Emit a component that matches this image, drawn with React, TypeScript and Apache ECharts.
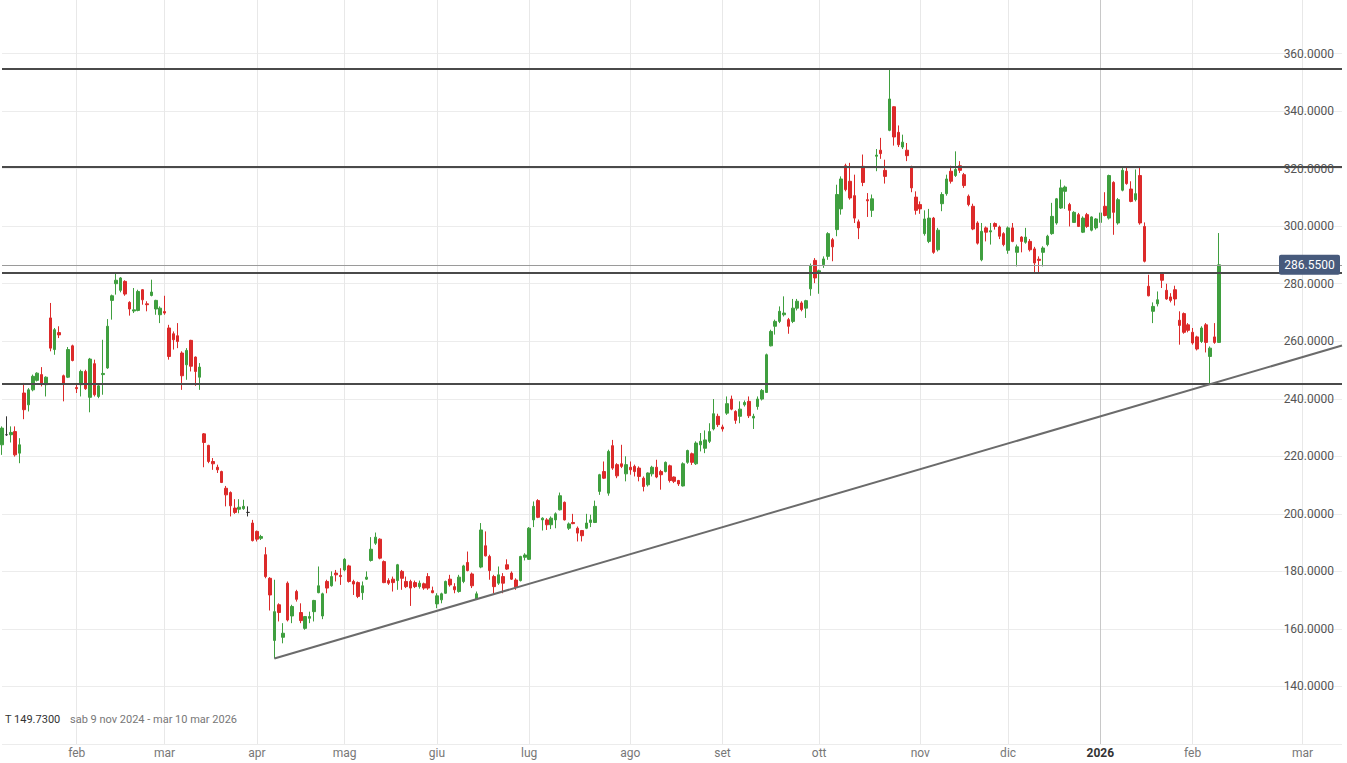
import React, { useEffect, useRef } from 'react';
import * as echarts from 'echarts';

// ---- axis / calendar definitions ----
const FIRST_DAY = '2025-01-09';
const LAST_TRADING_DAY = '2026-02-10';
const LAST_AXIS_DAY = '2026-03-10';
const HOLIDAYS = ['2025-04-18', '2025-04-21', '2025-05-01', '2025-12-25', '2025-12-26', '2026-01-01'];
const MONTHS_IT = ['gen', 'feb', 'mar', 'apr', 'mag', 'giu', 'lug', 'ago', 'set', 'ott', 'nov', 'dic'];
const Y_MIN = 120;
const Y_MAX = 380;
const Y_STEP = 20;

// ---- levels / annotations ----
const LEVELS = [354.7, 320.8, 283.7, 245.2];
const LAST_PRICE = 286.55;
const TREND_START = ['2025-04-07', 149.73];
const TREND_END = ['2026-03-10', 258.5];
const YEAR_LINE = '2026-01-02';
const INFO_LEFT = 'T 149.7300';
const INFO_RIGHT = 'sab 9 nov 2024 - mar 10 mar 2026';

// ---- daily candles: [open, close, low, high] ----
const CANDLES = [
  [224.0, 229.8, 220.5, 230.4], [227.5, 227.5, 227.1, 233.9], [227.5, 228.3, 224.8, 230.4], [228.6, 220.5, 219.9, 230.4],
  [221.1, 224.0, 217.6, 226.3], [242.0, 236.2, 232.9, 245.5], [237.9, 243.1, 235.6, 243.7], [243.1, 247.8, 242.6, 248.4],
  [246.4, 248.9, 246.0, 249.2], [248.4, 245.2, 244.3, 251.0], [244.9, 247.5, 240.8, 247.8], [268.1, 257.6, 256.5, 273.3],
  [257.1, 264.0, 255.3, 264.6], [263.0, 262.2, 261.1, 265.2], [248.0, 245.2, 239.1, 248.4], [247.5, 257.1, 247.2, 258.0],
  [258.4, 253.3, 253.0, 258.8], [243.9, 243.5, 242.0, 245.5], [244.9, 249.5, 240.8, 250.1], [249.5, 243.5, 243.1, 250.1],
  [240.5, 253.8, 235.3, 254.2], [252.2, 241.4, 240.8, 253.6], [240.8, 244.5, 240.2, 244.9], [248.4, 248.8, 241.4, 260.5],
  [250.7, 265.2, 250.4, 267.7], [274.2, 275.8, 267.5, 276.2], [280.0, 281.2, 276.2, 283.7], [277.7, 282.0, 277.0, 282.3],
  [280.8, 276.4, 275.8, 281.2], [273.5, 271.2, 268.9, 273.9], [270.5, 270.9, 269.8, 278.5], [270.7, 277.3, 270.4, 277.9],
  [277.9, 274.4, 272.7, 278.1], [273.0, 272.7, 270.4, 273.9], [275.9, 277.1, 275.6, 281.4], [271.2, 274.2, 269.2, 274.4],
  [269.2, 271.5, 266.3, 272.1], [270.3, 269.8, 269.2, 275.8], [264.6, 254.7, 253.6, 265.7], [262.6, 260.5, 257.1, 263.4],
  [261.9, 259.9, 257.6, 266.3], [255.9, 248.0, 243.1, 256.5], [251.8, 256.8, 246.6, 257.6], [260.3, 251.3, 249.5, 260.5],
  [254.5, 249.5, 244.5, 254.7], [247.5, 251.0, 243.1, 252.4], [227.8, 224.8, 216.2, 228.1], [223.8, 218.2, 217.6, 224.0],
  [218.2, 217.4, 215.3, 219.4], [216.2, 215.3, 214.2, 217.1], [214.7, 210.9, 210.7, 215.0], [208.9, 206.6, 202.6, 209.7],
  [207.4, 202.8, 199.1, 207.8], [202.0, 200.5, 200.0, 205.1], [201.6, 202.3, 200.2, 205.1], [201.8, 202.6, 201.4, 204.9],
  [200.5, 200.5, 199.1, 202.6], [196.8, 190.7, 190.4, 197.9], [193.9, 191.2, 190.4, 194.2], [191.5, 192.1, 190.9, 192.7],
  [185.8, 178.2, 177.6, 188.4], [177.6, 171.8, 166.4, 178.0], [156.0, 166.0, 149.73, 177.1], [168.4, 165.7, 162.6, 168.9],
  [157.1, 158.5, 155.0, 162.0], [175.9, 163.1, 162.6, 176.5], [164.5, 167.8, 162.0, 168.4], [173.0, 170.3, 169.5, 173.6],
  [165.7, 162.9, 162.0, 168.9], [160.2, 164.3, 159.7, 164.5], [163.7, 164.3, 162.0, 166.0], [166.0, 169.9, 162.6, 170.1],
  [172.6, 175.0, 172.4, 181.7], [164.5, 172.2, 163.4, 172.6], [176.5, 174.2, 172.4, 177.1], [175.0, 178.2, 174.7, 180.0],
  [179.4, 178.8, 176.5, 180.5], [178.6, 178.2, 175.3, 181.1], [180.5, 184.2, 180.0, 184.6], [181.9, 176.5, 176.1, 182.3],
  [176.5, 175.6, 171.8, 177.1], [176.1, 171.3, 170.7, 176.5], [172.6, 175.0, 170.1, 176.5], [177.3, 178.0, 177.0, 180.0],
  [183.8, 187.7, 183.4, 191.9], [189.8, 191.9, 189.2, 193.5], [191.2, 184.6, 184.2, 191.5], [183.4, 176.1, 175.9, 183.8],
  [176.8, 175.9, 175.3, 177.6], [177.3, 176.1, 173.0, 178.2], [176.8, 182.3, 173.6, 182.6], [180.0, 177.6, 173.6, 180.5],
  [176.5, 174.7, 174.2, 178.2], [176.5, 174.2, 168.0, 177.1], [176.1, 174.7, 174.2, 176.8], [174.7, 175.9, 174.0, 176.8],
  [175.7, 174.2, 173.6, 176.1], [178.2, 174.2, 173.6, 179.4], [173.3, 172.6, 172.4, 174.7], [168.7, 171.5, 167.2, 172.4],
  [170.1, 172.2, 168.9, 172.6], [172.4, 176.5, 172.2, 176.8], [177.3, 175.3, 174.7, 178.8], [174.7, 173.6, 172.4, 175.9],
  [173.0, 178.0, 172.6, 178.8], [176.5, 181.9, 175.9, 182.3], [183.1, 180.3, 180.0, 186.9], [179.1, 175.0, 174.2, 179.6],
  [170.3, 172.2, 170.1, 173.0], [181.5, 194.4, 181.1, 196.8], [188.9, 185.4, 185.2, 193.9], [185.2, 180.3, 177.1, 185.8],
  [178.2, 174.7, 172.4, 178.8], [175.9, 178.8, 175.3, 181.7], [178.2, 175.9, 172.4, 179.4], [182.3, 180.8, 180.5, 184.2],
  [179.4, 177.3, 177.0, 180.0], [177.0, 174.5, 173.6, 177.6], [176.8, 185.2, 176.5, 185.4], [184.9, 185.7, 183.8, 186.3],
  [184.2, 195.0, 184.0, 195.4], [197.9, 202.6, 195.4, 204.3], [204.6, 198.8, 198.5, 205.1], [197.9, 198.5, 194.2, 198.8],
  [197.9, 196.2, 194.4, 198.5], [196.2, 198.5, 194.7, 199.1], [197.9, 200.0, 195.0, 200.5], [201.4, 206.3, 201.2, 207.4],
  [204.0, 197.9, 197.7, 204.3], [195.0, 196.5, 194.4, 197.0], [197.0, 196.6, 196.4, 200.0], [195.0, 193.3, 190.4, 195.6],
  [194.2, 192.4, 190.4, 194.4], [195.0, 196.8, 194.7, 200.0], [197.0, 197.9, 195.4, 199.7], [197.0, 202.6, 196.8, 204.6],
  [207.8, 213.6, 206.6, 213.9], [214.7, 212.4, 212.1, 218.2], [207.2, 221.7, 206.3, 222.3], [223.7, 215.9, 215.3, 225.7],
  [217.1, 213.2, 212.4, 217.6], [217.4, 216.5, 215.9, 224.0], [213.9, 217.1, 211.3, 220.0], [216.2, 215.3, 213.6, 218.2],
  [216.5, 214.7, 213.0, 217.1], [215.9, 213.0, 211.3, 216.5], [212.4, 209.5, 207.8, 213.0], [210.1, 214.2, 209.5, 214.4],
  [213.9, 216.2, 213.0, 216.7], [216.2, 212.8, 212.4, 218.8], [214.7, 213.6, 208.4, 215.3], [214.7, 217.9, 214.4, 218.2],
  [216.7, 211.6, 210.9, 217.1], [212.8, 211.3, 210.7, 213.0], [211.6, 210.4, 209.7, 211.8], [209.7, 217.4, 209.5, 217.9],
  [217.9, 222.0, 217.4, 222.3], [220.9, 217.9, 217.0, 221.3], [217.4, 224.6, 217.0, 225.2], [224.0, 225.2, 221.7, 228.1],
  [222.8, 225.7, 221.1, 229.0], [225.2, 228.6, 224.6, 231.5], [229.5, 234.8, 229.0, 239.9], [233.9, 231.0, 230.2, 234.8],
  [230.2, 229.5, 228.6, 231.0], [235.0, 238.3, 234.4, 240.8], [239.9, 236.4, 236.0, 241.1], [235.6, 232.5, 231.3, 236.0],
  [233.9, 236.4, 231.5, 239.1], [237.9, 238.7, 237.3, 239.4], [239.1, 234.1, 233.3, 240.8], [233.3, 233.9, 229.5, 234.8],
  [237.3, 239.9, 236.2, 240.8], [239.9, 242.9, 239.4, 243.4], [242.2, 255.3, 242.0, 255.7], [258.4, 263.4, 258.2, 264.0],
  [265.2, 266.9, 262.3, 267.5], [266.9, 270.4, 266.3, 272.1], [269.2, 269.8, 268.6, 275.6], [267.5, 265.2, 262.6, 268.1],
  [266.9, 271.5, 266.3, 274.7], [271.5, 273.9, 270.7, 274.7], [273.3, 271.0, 270.4, 273.9], [271.5, 274.1, 268.1, 274.4],
  [278.2, 286.3, 275.8, 287.0], [288.1, 282.0, 280.2, 288.9], [284.0, 284.5, 276.5, 284.9], [286.6, 288.6, 285.5, 289.5],
  [289.5, 297.4, 288.3, 297.9], [295.3, 292.8, 287.8, 295.9], [298.8, 311.0, 296.5, 314.4], [306.0, 316.4, 304.0, 317.3],
  [321.0, 312.7, 312.1, 321.7], [315.6, 309.8, 309.2, 322.0], [310.6, 302.8, 301.1, 317.9], [301.5, 299.4, 295.5, 302.3],
  [320.8, 315.2, 313.9, 324.9], [309.2, 308.8, 303.2, 311.5], [305.5, 309.5, 303.2, 311.0], [324.3, 324.7, 319.1, 326.8],
  [326.4, 325.2, 323.4, 330.7], [319.4, 317.3, 314.8, 323.1], [333.3, 344.2, 333.0, 354.7], [341.5, 331.0, 328.0, 341.7],
  [332.6, 328.3, 327.5, 335.0], [327.5, 329.2, 326.8, 331.8], [326.4, 324.5, 322.6, 328.9], [320.6, 313.3, 311.8, 321.0],
  [310.1, 305.5, 304.0, 312.1], [307.5, 306.0, 304.3, 308.6], [297.4, 302.5, 296.7, 305.5], [294.7, 302.8, 294.1, 306.0],
  [302.8, 290.9, 290.4, 303.2], [291.8, 298.6, 291.2, 299.4], [307.8, 311.0, 305.2, 311.8], [311.3, 316.4, 310.6, 317.9],
  [319.1, 315.6, 314.8, 321.0], [317.6, 319.7, 317.1, 326.0], [321.0, 319.4, 318.5, 322.6], [317.9, 314.1, 313.3, 318.5],
  [310.4, 307.5, 306.9, 311.0], [306.9, 299.0, 298.6, 307.8], [301.1, 294.1, 293.6, 301.7], [288.3, 298.2, 287.8, 301.1],
  [299.4, 297.9, 294.7, 299.9], [298.0, 298.4, 293.6, 301.1], [300.9, 299.9, 298.8, 301.3], [299.7, 296.5, 295.5, 300.2],
  [297.4, 293.6, 293.0, 297.9], [291.6, 299.4, 290.4, 299.9], [299.4, 294.7, 294.4, 301.1], [290.9, 292.8, 286.0, 293.6],
  [296.2, 294.7, 290.9, 296.5], [294.4, 296.2, 293.9, 299.4], [294.7, 291.8, 291.2, 295.5], [292.1, 287.2, 283.7, 292.8],
  [288.5, 288.1, 283.7, 289.5], [290.9, 292.4, 286.0, 293.0], [293.6, 296.5, 293.0, 297.0], [297.4, 303.4, 297.0, 308.1],
  [301.1, 309.5, 300.5, 309.8], [306.3, 313.3, 306.0, 316.2], [312.1, 313.6, 306.0, 314.1], [307.5, 305.5, 299.9, 308.1],
  [301.3, 304.8, 301.1, 305.2], [304.0, 299.9, 299.7, 304.6], [297.9, 302.8, 297.6, 303.4], [304.0, 299.9, 299.4, 304.6],
  [298.6, 303.2, 298.2, 303.4], [299.4, 302.5, 298.8, 302.8], [301.3, 304.6, 301.1, 305.2], [306.9, 303.7, 303.4, 311.8],
  [302.8, 317.6, 302.3, 317.9], [315.2, 304.8, 297.0, 315.6], [301.1, 309.2, 300.5, 309.8], [312.5, 319.4, 312.1, 320.2],
  [319.1, 314.8, 314.4, 320.8], [312.9, 308.6, 308.3, 315.6], [309.2, 311.3, 308.6, 319.7], [317.6, 301.1, 300.5, 320.2],
  [299.9, 287.8, 287.4, 301.3], [279.1, 275.8, 275.6, 283.1], [270.4, 272.1, 266.3, 273.5], [273.0, 274.4, 272.1, 277.3],
  [283.6, 281.2, 278.5, 283.9], [277.7, 274.7, 274.4, 280.0], [275.4, 274.2, 273.5, 276.7], [277.9, 274.7, 272.4, 279.3],
  [267.3, 265.5, 258.8, 270.4], [269.6, 263.1, 262.6, 270.0], [265.7, 263.8, 263.1, 266.3], [263.1, 259.4, 258.8, 264.6],
  [261.5, 257.3, 256.8, 261.9], [259.9, 264.6, 259.4, 265.2], [265.7, 259.6, 256.1, 266.3], [254.7, 257.6, 245.2, 258.2],
  [261.5, 259.6, 259.1, 266.3], [259.6, 286.55, 259.4, 297.6],
];

function isoDay(d: Date) {
  return d.toISOString().slice(0, 10);
}

function buildCategories(): string[] {
  const out: string[] = [];
  const d = new Date(FIRST_DAY + 'T00:00:00Z');
  const lastT = new Date(LAST_TRADING_DAY + 'T00:00:00Z').getTime();
  const lastA = new Date(LAST_AXIS_DAY + 'T00:00:00Z').getTime();
  while (d.getTime() <= lastA) {
    const s = isoDay(d);
    const wd = d.getUTCDay();
    if (d.getTime() <= lastT) {
      if (wd !== 0 && wd !== 6 && HOLIDAYS.indexOf(s) < 0) out.push(s);
    } else {
      out.push(s);
    }
    d.setUTCDate(d.getUTCDate() + 1);
  }
  return out;
}

const CATEGORIES = buildCategories();

function isMonthStart(i: number) {
  return i > 0 && CATEGORIES[i].slice(0, 7) !== CATEGORIES[i - 1].slice(0, 7);
}

const FONT = 'Roboto, "Open Sans", sans-serif';
const SHIFT = 4; // chart canvas starts 4px above the page top

export default function App() {
  const ref = useRef<HTMLDivElement>(null);

  useEffect(() => {
    if (!ref.current) return;
    const chart = echarts.init(ref.current, undefined, { renderer: 'svg' });
    const option: any = {
      animation: false,
      backgroundColor: '#ffffff',
      textStyle: { fontFamily: FONT },
      grid: { left: 2, right: 5, top: 0, bottom: 19, containLabel: false },
      xAxis: {
        type: 'category',
        data: CATEGORIES,
        boundaryGap: false,
        axisLine: { show: false },
        axisTick: { show: false },
        axisLabel: {
          interval: (i: number) => isMonthStart(i),
          margin: 3,
          color: '#777',
          fontSize: 12,
          fontFamily: FONT,
          formatter: (v: string) => {
            const m = parseInt(v.slice(5, 7), 10) - 1;
            if (m === 0) return '{y|' + v.slice(0, 4) + '}';
            return MONTHS_IT[m];
          },
          rich: { y: { fontWeight: 'bold', color: '#333', fontSize: 12, fontFamily: FONT } },
        },
        splitLine: {
          show: true,
          interval: (i: number) => isMonthStart(i),
          lineStyle: { color: '#e8e8e8', width: 1 },
        },
      },
      yAxis: {
        type: 'value',
        position: 'right',
        min: Y_MIN,
        max: Y_MAX,
        interval: Y_STEP,
        axisLine: { show: false },
        axisTick: { show: false },
        axisLabel: {
          inside: true,
          margin: 8,
          color: '#555',
          fontSize: 12,
          fontFamily: FONT,
          showMinLabel: false,
          showMaxLabel: false,
          formatter: (v: number) => v.toFixed(4),
        },
        splitLine: { show: true, lineStyle: { color: '#ececec', width: 1 } },
      },
      series: [
        {
          type: 'line',
          data: [],
          z: 1,
          silent: true,
          markLine: {
            silent: true,
            symbol: 'none',
            label: { show: false },
            lineStyle: { color: '#c8c8c8', width: 1, type: 'solid' },
            data: [{ xAxis: YEAR_LINE }],
          },
        },
        {
          type: 'candlestick',
          data: CANDLES,
          barWidth: 3,
          z: 3,
          itemStyle: {
            color: '#3f9f3f',
            color0: '#dc2a2a',
            borderColor: '#3f9f3f',
            borderColor0: '#dc2a2a',
            borderColorDoji: '#333333',
            borderWidth: 1,
          },
        },
        {
          type: 'line',
          data: [TREND_START, TREND_END],
          symbol: 'none',
          z: 5,
          silent: true,
          lineStyle: { color: '#6b6b6b', width: 2 },
          markLine: {
            silent: true,
            symbol: 'none',
            label: { show: false },
            data: [
              ...LEVELS.map((v) => ({ yAxis: v, lineStyle: { color: '#4a4a4a', width: 2, type: 'solid' } })),
              { yAxis: LAST_PRICE, lineStyle: { color: '#9a9a9a', width: 1, type: 'solid' } },
            ],
          },
        },
      ],
    };
    chart.setOption(option);

    const py = chart.convertToPixel({ yAxisIndex: 0 }, LAST_PRICE) as number;
    chart.setOption({
      graphic: [
        {
          type: 'rect',
          shape: { x: 1279, y: py - 10, width: 61, height: 20, r: 2 },
          style: { fill: '#475a7c' },
          z: 10,
        },
        {
          type: 'text',
          x: 1309.5,
          y: py,
          style: {
            text: LAST_PRICE.toFixed(4),
            fill: '#ffffff',
            fontSize: 12,
            fontFamily: FONT,
            align: 'center',
            verticalAlign: 'middle',
          },
          z: 11,
        },
        {
          type: 'text',
          x: 5,
          y: 719 + SHIFT,
          style: { text: INFO_LEFT, fill: '#333', fontSize: 11, fontFamily: FONT, verticalAlign: 'middle' },
          z: 10,
        },
        {
          type: 'text',
          x: 70,
          y: 719 + SHIFT,
          style: { text: INFO_RIGHT, fill: '#777', fontSize: 11, fontFamily: FONT, verticalAlign: 'middle' },
          z: 10,
        },
      ],
    });

    return () => chart.dispose();
  }, []);

  return (
    <div
      ref={ref}
      style={{ position: 'fixed', left: 0, top: -SHIFT, width: 1347, height: 763 + SHIFT, background: '#fff' }}
    />
  );
}
